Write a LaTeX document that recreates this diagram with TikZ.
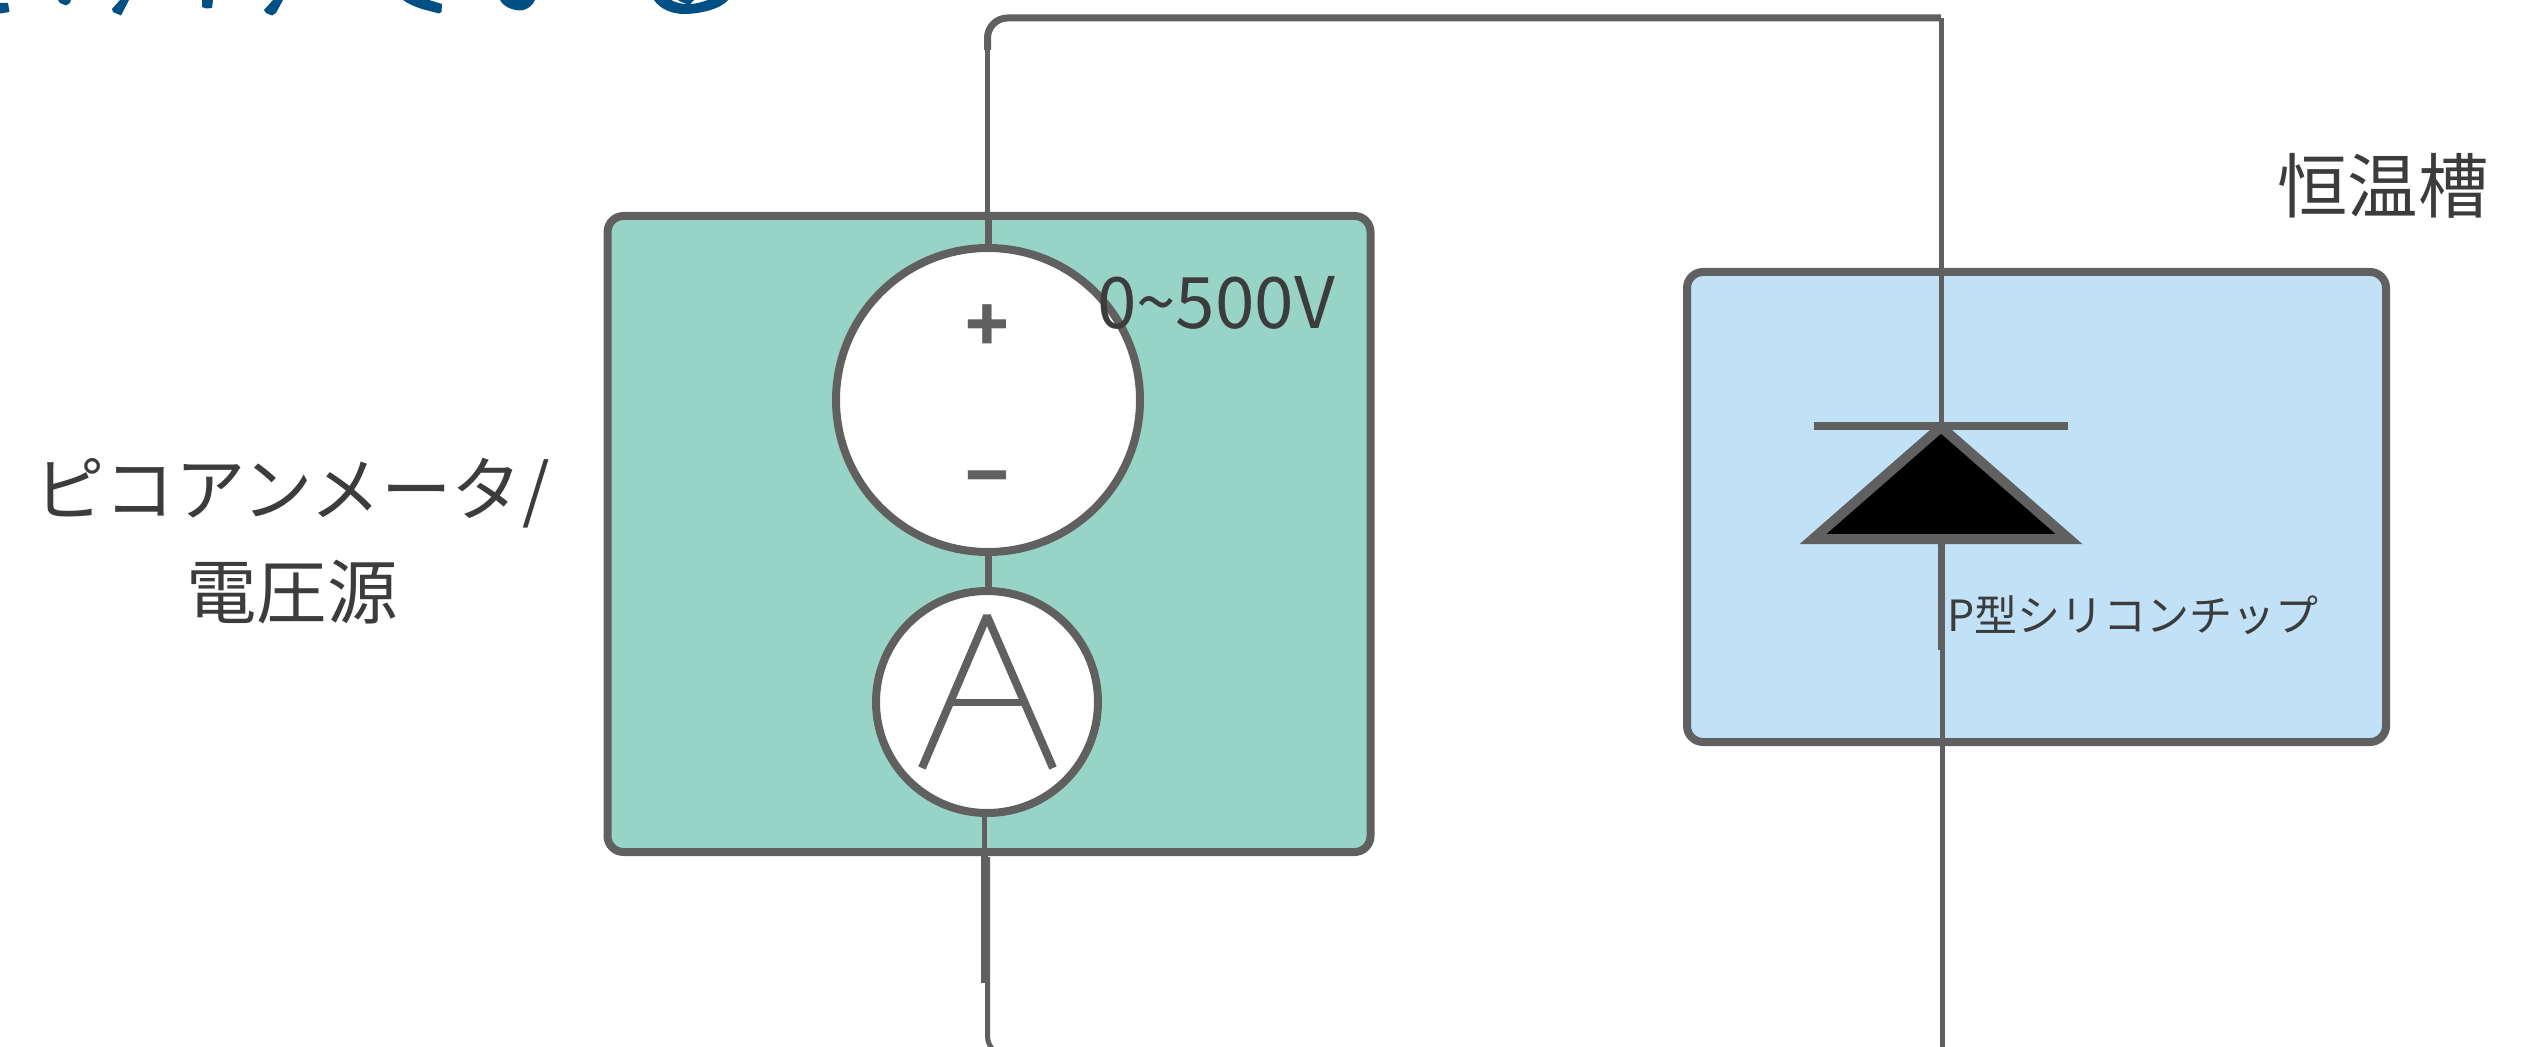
\documentclass[tikz,border=0pt]{standalone}
\usepackage{fontspec}
\setmainfont{Noto Sans CJK JP}
\definecolor{wirec}{HTML}{606060}
\definecolor{greenf}{HTML}{97D4C5}
\definecolor{bluef}{HTML}{C1E1F6}
\definecolor{inkc}{HTML}{3C3C3C}
\definecolor{headc}{HTML}{004F85}
\tikzset{
  panel/.style={draw=wirec,line width=4pt,rounded corners=8pt,inner sep=0pt,outer sep=0pt},
  meter/.style={circle,draw=wirec,line width=4pt,fill=white,inner sep=0pt,outer sep=0pt},
  wirethin/.style={draw=wirec,line width=2.5pt},
  wirethick/.style={draw=wirec,line width=3.5pt},
  lab/.style={text=inkc,inner sep=0pt,outer sep=0pt},
  bigtext/.style={lab,font=\fontsize{35.2}{51.5}\selectfont,align=center},
  sign/.style={text=wirec,inner sep=0pt,outer sep=0pt,font=\fontsize{36}{36}\selectfont\bfseries},
  head/.style={fill=headc,draw=none}
}
\begin{document}
\begin{tikzpicture}[x=0.5pt,y=-0.5pt]
\useasboundingbox (0,0) rectangle (2535,1047);
\clip (0,0) rectangle (2535,1047);
\fill[white] (0,0) rectangle (2535,1047);
% clipped heading fragments
\fill[head] (0,3) -- (8,3) -- (9.5,12) -- (0,13.5) -- cycle;
\fill[head] (58,0) -- (60,3) -- (66,5.5) -- (70,3) -- (71,0) -- cycle;
\fill[head] (120,0) -- (112,9) -- (113,12) -- (121,15.5) -- (129,0) -- cycle;
\fill[head] (202,0) -- (202,7) -- (206,8.5) -- (212,8) -- (213,0) -- cycle;
\fill[head] (273,0) -- (264,10) -- (266,13) -- (272,15.5) -- (276,13) -- (283,0) -- cycle;
\fill[head] (403,0) .. controls (408,4) and (416,7) .. (422,9) -- (439,13.5) -- (441.5,12) -- (442,4) -- (429,0) -- cycle;
\fill[head] (500,0) .. controls (504,7) and (512,10) .. (520,10.5) .. controls (528,10) and (533,5) .. (535,0) -- cycle;
\fill[head] (654,0) .. controls (660,9) and (672,14) .. (684,14) .. controls (702,14) and (722,8) .. (728,0) -- (708,0) .. controls (702,2) and (696,4) .. (690,4) -- (694,0) -- (678,0) .. controls (680,2) and (684,3) .. (688,4) .. controls (682,4) and (676,3) .. (671,0) -- cycle;
% panels
\node[panel,fill=greenf,minimum width=381.5pt,minimum height=318pt] (psu) at (989,534) {};
\node[panel,fill=bluef,minimum width=349.5pt,minimum height=235pt] (bath) at (2036.5,507) {};
% circuit points
\coordinate (topL) at (987.5,18);
\coordinate (topR) at (1941,18);
\coordinate (botL) at (987.5,1056);
\coordinate (botR) at (1942,1056);
\coordinate (stubA) at (984,983);
\coordinate (stubB) at (987.5,857);
\coordinate (stubC) at (984,812);
\coordinate (dioTop) at (1941,426);
\coordinate (dioBase) at (1941,539);
\coordinate (dioLow) at (1941,650);
\coordinate (dioLowB) at (1942,650);
\coordinate (barL) at (1814,426);
\coordinate (barR) at (2068,426);
\coordinate (triL) at (1813,539);
\coordinate (triR) at (2069,539);
\coordinate (triT) at (1941,427);
% wires
\draw[wirethin] (987.5,216) -- (987.5,50);
\draw[wirethick,rounded corners=10pt] (987.5,50) -- (topL) -- (topR);
\draw[wirethin] (topR) -- (dioTop);
\draw[wirethick] (988.5,216) -- (988.5,250);
\draw[wirethick] (988,552) -- (988,592);
\draw[wirethin] (stubC) -- (984,852);
\draw[wirethick] (984,852) -- (stubA);
\draw[wirethin,rounded corners=10pt] (stubB) -- (botL) -- (1020,1056);
\draw[wirethin] (1020,1056) -- (botR) -- (dioLowB);
\draw[wirethick] (dioBase) -- (dioLow);
% meters
\node[meter,minimum size=152pt] (src) at (988,400) {};
\node[meter,minimum size=111pt] (amm) at (987,702) {};
\draw[wirec,line width=4pt,line join=bevel] (922,768) -- (987,616) -- (1053,768);
\draw[wirec,line width=3.5pt] (950,702) -- (1024,702);
\node[sign] (plus) at (987,328) {+};
\node[sign] (minus) at (987,487) {−};
% diode
\draw[wirec,line width=5pt,fill=black,miter limit=10] (triL) -- (triR) -- (triT) -- cycle;
\draw[wirec,line width=4pt] (barL) -- (barR);
% labels
\node[lab,font=\fontsize{35.5}{36}\selectfont,anchor=west] (range) at (1097,303) {0\textasciitilde 500V};
\node[lab,font=\fontsize{21.5}{22}\selectfont,anchor=west] (chip) at (1947,615) {P型シリコンチップ};
\node[bigtext] (bathlab) at (2383,186) {恒温槽};
\node[bigtext] (psulab) at (292,541) {ピコアンメータ/\\電圧源};
\end{tikzpicture}
\end{document}
